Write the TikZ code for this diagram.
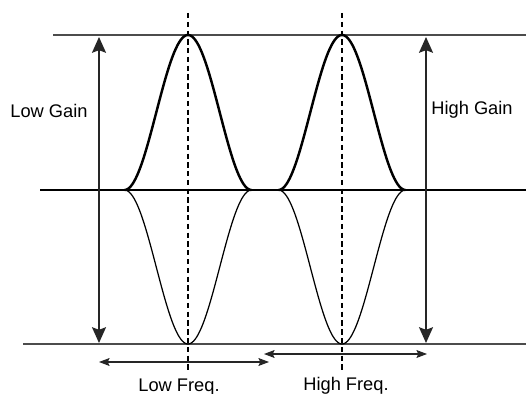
\documentclass[tikz,border=0pt]{standalone}
\usepackage{fontspec}
\setmainfont{Liberation Sans}
\usetikzlibrary{arrows.meta}
\begin{document}
\begin{tikzpicture}[x=0.02cm,y=-0.02cm,
  label/.style={font=\fontsize{10.4}{12}\selectfont, inner sep=0pt, anchor=base},
  refline/.style={draw=black!70, line width=0.75pt},
  baseline/.style={draw=black, line width=1.5pt},
  upper/.style={draw=black, line width=1.4pt},
  lower/.style={draw=black, line width=0.7pt},
  centerline/.style={draw=black, line width=0.6pt, dash pattern=on 3pt off 2pt},
  gainarrow/.style={draw=black!85, line width=0.85pt, {Stealth[length=9pt,width=8pt,inset=1.5pt]}-{Stealth[length=9pt,width=8pt,inset=1.5pt]}},
  freqarrow/.style={draw=black!85, line width=0.6pt, {Stealth[length=6pt,width=4.5pt,inset=1pt]}-{Stealth[length=6pt,width=4.5pt,inset=1pt]}}
]
\useasboundingbox (0,0) rectangle (526,394);
% reference lines
\coordinate (tl) at (53,35); \coordinate (tr) at (526,35);
\coordinate (bl) at (23,344); \coordinate (br) at (526,344);
\coordinate (ml) at (40,190); \coordinate (mr) at (526,190);
\draw[refline] (tl) -- (tr);
\draw[refline] (bl) -- (br);
% dashed centre lines
\coordinate (c1t) at (188,13); \coordinate (c1b) at (188,370);
\coordinate (c2t) at (342,13); \coordinate (c2b) at (342,370);
\draw[centerline] (c1t) -- (c1b);
\draw[centerline] (c2t) -- (c2b);
% bumps
\draw[lower] plot[domain=-1:1, samples=80, smooth] ({188+63.5*\x}, {190+154*(1+cos(180*\x))/2});
\draw[lower] plot[domain=-1:1, samples=80, smooth] ({342+63.5*\x}, {190+154*(1+cos(180*\x))/2});
\draw[baseline] (ml) -- (mr);
\draw[upper] plot[domain=-1:1, samples=80, smooth] ({188+63.5*\x}, {190-155*(1+cos(180*\x))/2});
\draw[upper] plot[domain=-1:1, samples=80, smooth] ({342+63.5*\x}, {190-155*(1+cos(180*\x))/2});
% gain arrows
\coordinate (lga) at (99,37); \coordinate (lgb) at (99,343);
\coordinate (hga) at (426,37); \coordinate (hgb) at (426,343);
\draw[gainarrow] (lga) -- (lgb);
\draw[gainarrow] (hga) -- (hgb);
% freq arrows
\coordinate (lfa) at (99,362); \coordinate (lfb) at (269,362);
\coordinate (hfa) at (264,354); \coordinate (hfb) at (427,354);
\draw[freqarrow] (lfa) -- (lfb);
\draw[freqarrow] (hfa) -- (hfb);
% labels
\node[label] (lowgain) at (49,118) {Low Gain};
\node[label] (highgain) at (472,115) {High Gain};
\node[label] (lowfreq) at (179,391) {Low Freq.};
\node[label] (highfreq) at (346,390) {High Freq.};
\end{tikzpicture}
\end{document}
